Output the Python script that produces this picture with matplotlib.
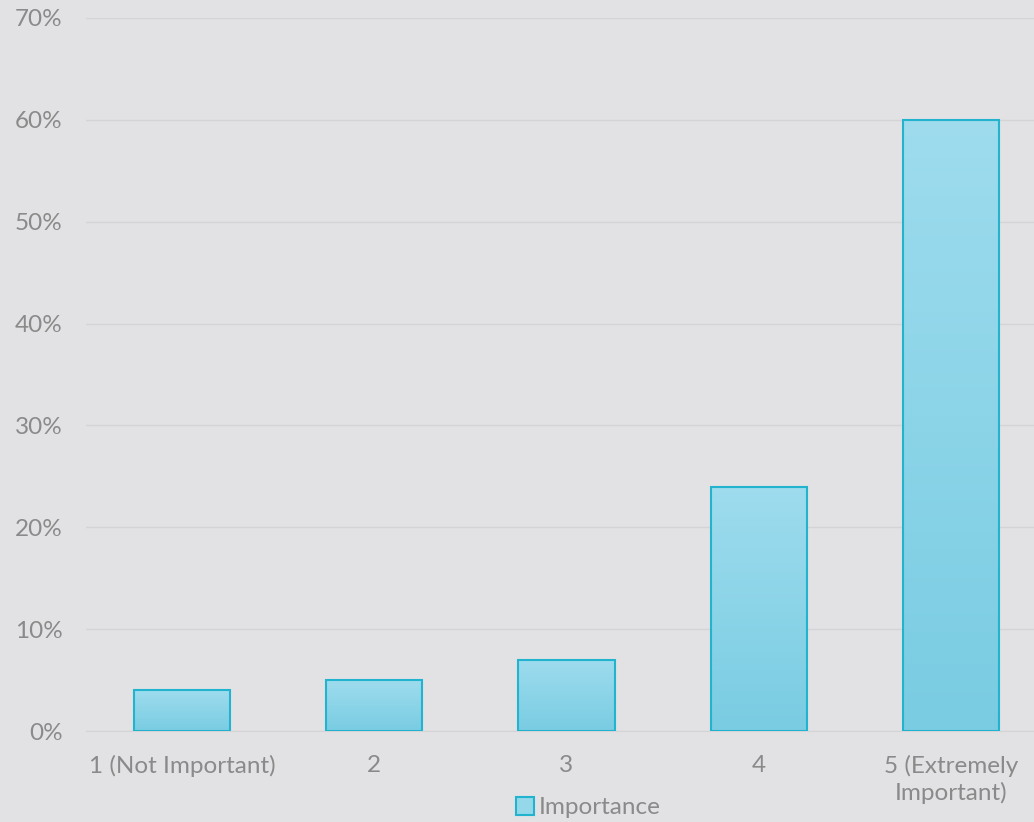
import matplotlib.pyplot as plt
import numpy as np
from matplotlib.patches import Patch
from matplotlib.ticker import FuncFormatter
from matplotlib.colors import LinearSegmentedColormap

categorias = ["1 (Not Important)", "2", "3", "4", "5 (Extremely\nImportant)"]
importancia = [4, 5, 7, 24, 60]

fondo = "#e2e2e5"
color_texto = "#8a8a8a"
color_borde = "#22b4cf"

plt.rcParams["font.family"] = ["Lato", "DejaVu Sans"]

fig = plt.figure(figsize=(10.34, 8.22), dpi=100, facecolor=fondo)
ax = fig.add_axes([86 / 1034, 1 - 731 / 822, 961 / 1034, 713 / 822])
ax.set_facecolor("none")

x = np.arange(len(categorias))
barras = ax.bar(x, importancia, width=0.5, color="none", edgecolor=color_borde,
                linewidth=1.5, zorder=3)

# degradado vertical dentro de cada barra
gradiente = np.linspace(0, 1, 256).reshape(-1, 1)
cmap = LinearSegmentedColormap.from_list("barra", ["#79cce2", "#9edcee"])
for b in barras:
    x0, y0 = b.get_x(), b.get_y()
    w, h = b.get_width(), b.get_height()
    im = ax.imshow(gradiente, extent=(x0, x0 + w, y0, y0 + h), origin="lower",
                   cmap=cmap, aspect="auto", zorder=2)
    im.set_clip_path(b)

ax.set_xlim(-0.5, len(categorias) - 0.5)
ax.set_ylim(0, 70)
ax.set_yticks(range(0, 71, 10))
ax.yaxis.set_major_formatter(FuncFormatter(lambda v, _: f"{v:.0f}%"))
ax.set_xticks(x)
ax.set_xticklabels(categorias, linespacing=1.3)
ax.grid(axis="y", color="#d4d4d6", linewidth=1, zorder=0)
for lado in ["top", "right", "left"]:
    ax.spines[lado].set_visible(False)
ax.spines["bottom"].set_color("#d4d4d6")
ax.tick_params(axis="both", length=0, labelsize=17.5, colors=color_texto)
ax.tick_params(axis="y", pad=17)
ax.tick_params(axis="x", pad=17)

leyenda = [Patch(facecolor="#94d8ea", edgecolor=color_borde, linewidth=1.5,
                 label="Importance")]
fig.legend(handles=leyenda, loc="lower center", bbox_to_anchor=(588 / 1034, -0.022),
           frameon=False, fontsize=17.5, labelcolor=color_texto,
           handlelength=0.75, handleheight=0.75, handletextpad=0.2)

fig.savefig("out.png", dpi=100, facecolor=fondo)
